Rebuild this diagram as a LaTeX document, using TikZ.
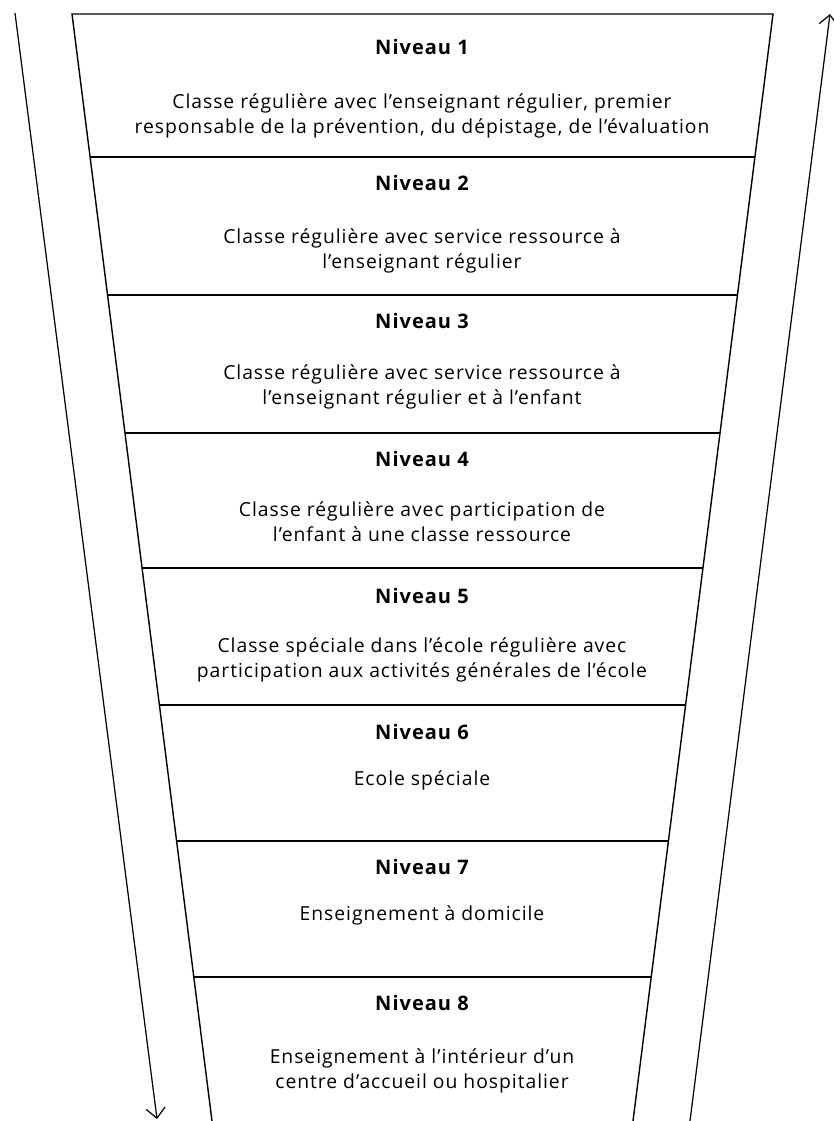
\documentclass[tikz,border=0pt]{standalone}
\usepackage{fontspec}
\setmainfont{Open Sans}[LetterSpace=5]
\usetikzlibrary{arrows.meta,calc}

\begin{document}
\begin{tikzpicture}[x=0.02cm,y=-0.02cm]
	\tikzstyle{titre} = [font=\fontsize{11.4}{13}\selectfont\bfseries, inner sep=0pt]
	\tikzstyle{texte} = [font=\fontsize{11}{14.4}\selectfont, align=center, inner sep=0pt]
	\tikzstyle{trait} = [line width=0.8pt]
	\tikzstyle{fleche} = [-{Straight Barb[length=2mm,width=3.8mm]}, line width=0.7pt]
	\useasboundingbox (0,0) rectangle (833,1121);

	% funnel corners
	\coordinate (HG) at (72,14);
	\coordinate (HD) at (773,14);
	\coordinate (BG) at (212,1121);
	\coordinate (BD) at (633,1121);

	\draw[trait] (BG) -- (HG) -- (HD) -- (BD);
	\draw[trait] ($(HG)!0.1292!(BG)$) -- ($(HD)!0.1292!(BD)$);
	\draw[trait] ($(HG)!0.2538!(BG)$) -- ($(HD)!0.2538!(BD)$);
	\draw[trait] ($(HG)!0.3785!(BG)$) -- ($(HD)!0.3785!(BD)$);
	\draw[trait] ($(HG)!0.5005!(BG)$) -- ($(HD)!0.5005!(BD)$);
	\draw[trait] ($(HG)!0.6242!(BG)$) -- ($(HD)!0.6242!(BD)$);
	\draw[trait] ($(HG)!0.7471!(BG)$) -- ($(HD)!0.7471!(BD)$);
	\draw[trait] ($(HG)!0.8699!(BG)$) -- ($(HD)!0.8699!(BD)$);

	% side arrows
	\coordinate (FG1) at (15,13);
	\coordinate (FG2) at (157,1119);
	\coordinate (FD1) at (690,1121);
	\coordinate (FD2) at (830,14);
	\draw[fleche] (FG1) -- (FG2);
	\draw[fleche] (FD1) -- (FD2);

	\node[titre] (Niv1) at (422,47) {Niveau 1};
	\node[texte] (Txt1) at (422,116) {Classe régulière avec l’enseignant régulier, premier\\responsable de la prévention, du dépistage, de l’évaluation};

	\node[titre] (Niv2) at (422,183) {Niveau 2};
	\node[texte] (Txt2) at (422,251) {Classe régulière avec service ressource à\\l’enseignant régulier};

	\node[titre] (Niv3) at (422,321) {Niveau 3};
	\node[texte] (Txt3) at (422,387) {Classe régulière avec service ressource à\\l’enseignant régulier et à l’enfant};

	\node[titre] (Niv4) at (422,459) {Niveau 4};
	\node[texte] (Txt4) at (422,522) {Classe régulière avec participation de\\l’enfant à une classe ressource};

	\node[titre] (Niv5) at (422,596) {Niveau 5};
	\node[texte] (Txt5) at (422,660) {Classe spéciale dans l’école régulière avec\\participation aux activités générales de l’école};

	\node[titre] (Niv6) at (422,732) {Niveau 6};
	\node[texte] (Txt6) at (422,780) {Ecole spéciale};

	\node[titre] (Niv7) at (422,867) {Niveau 7};
	\node[texte] (Txt7) at (422,915) {Enseignement à domicile};

	\node[titre] (Niv8) at (422,1003) {Niveau 8};
	\node[texte] (Txt8) at (422,1071) {Enseignement à l’intérieur d’un\\centre d’accueil ou hospitalier};
\end{tikzpicture}
\end{document}
